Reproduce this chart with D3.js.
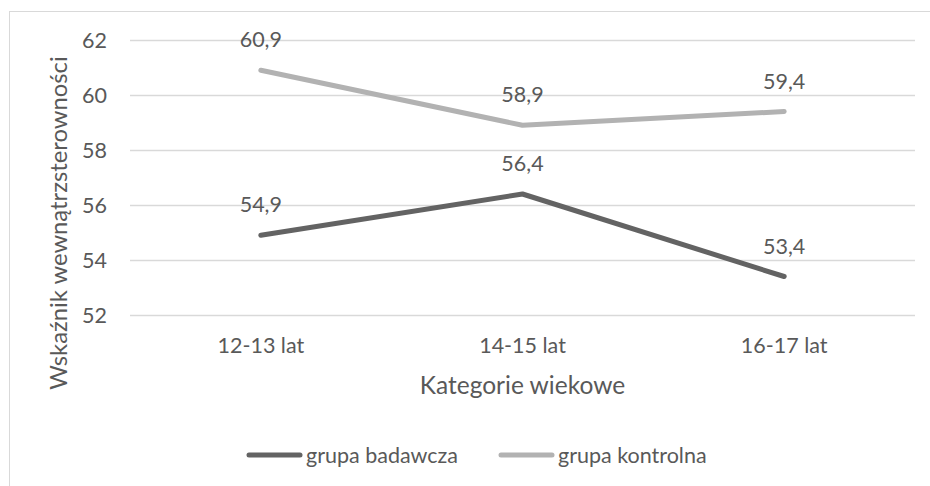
<!DOCTYPE html>
<html>
<head>
<meta charset="utf-8">
<script src="https://cdn.jsdelivr.net/npm/d3@7"></script>
<style>
  html, body { margin: 0; padding: 0; background: #fff; }
  svg text { font-family: "Lato", "Open Sans", sans-serif; fill: #595959; }
</style>
</head>
<body>
<svg id="chart" width="930" height="486"></svg>
<script>
// Age categories and the mean index for each group
const categories = ["12-13 lat", "14-15 lat", "16-17 lat"];
const badawcza = [54.9, 56.4, 53.4];
const kontrolna = [60.9, 58.9, 59.4];
const yTicks = [52, 54, 56, 58, 60, 62];
const seriesNames = ["grupa badawcza", "grupa kontrolna"];
const seriesColors = ["#636363", "#b2b2b2"];

const svg = d3.select("#chart");
const W = 930, H = 486;
const labelSize = 21.5, titleSize = 24.5;

// outer chart frame
svg.append("rect")
  .attr("x", 9.5).attr("y", 11.5)
  .attr("width", W + 10).attr("height", H + 10)
  .attr("fill", "none").attr("stroke", "#d9d9d9").attr("stroke-width", 1);

const plot = { left: 130, right: 915, top: 40, bottom: 315 };

const x = d3.scaleBand().domain(categories).range([plot.left, plot.right]);
const y = d3.scaleLinear().domain([52, 62]).range([plot.bottom, plot.top]);
const fmt = v => d3.format(".1f")(v).replace(".", ",");

// horizontal gridlines
svg.append("g").selectAll("line").data(yTicks).join("line")
  .attr("x1", plot.left).attr("x2", plot.right)
  .attr("y1", d => Math.round(y(d)) + 0.5).attr("y2", d => Math.round(y(d)) + 0.5)
  .attr("stroke", "#d9d9d9").attr("stroke-width", 1.3);

// y axis tick labels
const yAxis = d3.axisLeft(y).tickValues(yTicks).tickSize(0).tickPadding(0);
const gy = svg.append("g").attr("transform", `translate(107,0)`).call(yAxis);
gy.select(".domain").remove();
gy.selectAll("text").attr("font-size", labelSize).attr("fill", "#595959")
  .attr("font-family", "Lato, 'Open Sans', sans-serif").attr("dy", "0.36em");

// x axis category labels
const xAxis = d3.axisBottom(x).tickSize(0).tickPadding(0);
const gx = svg.append("g").attr("transform", `translate(0,${plot.bottom + 21})`).call(xAxis);
gx.select(".domain").remove();
gx.selectAll("text").attr("font-size", labelSize).attr("fill", "#595959")
  .attr("font-family", "Lato, 'Open Sans', sans-serif").attr("dy", "0.78em");

// axis titles
svg.append("text")
  .attr("x", (plot.left + plot.right) / 2).attr("y", 394)
  .attr("text-anchor", "middle").attr("font-size", titleSize)
  .text("Kategorie wiekowe");

svg.append("text")
  .attr("transform", "translate(67,223) rotate(-90)")
  .attr("text-anchor", "middle").attr("font-size", 23.8)
  .text("Wskaźnik wewnątrzsterowności");

// series lines and value labels
const cx = c => x(c) + x.bandwidth() / 2;
const line = d3.line().x((d, i) => cx(categories[i])).y(d => y(d));
[badawcza, kontrolna].forEach((vals, si) => {
  svg.append("path").datum(vals)
    .attr("d", line).attr("fill", "none")
    .attr("stroke", seriesColors[si]).attr("stroke-width", 5)
    .attr("stroke-linecap", "round").attr("stroke-linejoin", "round");
  svg.append("g").selectAll("text").data(vals).join("text")
    .attr("x", (d, i) => cx(categories[i]))
    .attr("y", d => y(d) - 23)
    .attr("text-anchor", "middle").attr("font-size", labelSize)
    .text(d => fmt(d));
});

// legend
const legendItems = [{ x: 247, tx: 306 }, { x: 499, tx: 558 }];
legendItems.forEach((it, i) => {
  svg.append("line")
    .attr("x1", it.x + 2).attr("x2", it.x + 53)
    .attr("y1", 455).attr("y2", 455)
    .attr("stroke", seriesColors[i]).attr("stroke-width", 5)
    .attr("stroke-linecap", "round");
  svg.append("text")
    .attr("x", it.tx).attr("y", 463)
    .attr("font-size", labelSize)
    .text(seriesNames[i]);
});
</script>
</body>
</html>
